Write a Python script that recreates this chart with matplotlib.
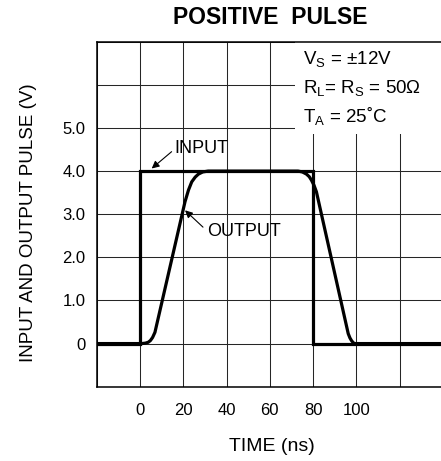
import matplotlib.pyplot as plt
from matplotlib.patches import Rectangle

plt.rcParams['font.family'] = ['Liberation Sans', 'DejaVu Sans']
plt.rcParams['mathtext.fontset'] = 'custom'
plt.rcParams['mathtext.rm'] = 'Liberation Sans'

# input pulse (time ns, volts)
input_t = [-20, 0, 0, 80, 80, 140]
input_v = [0, 0, 4, 4, 0, 0]

# output pulse
output_t = [-20, 0, 0.8, 2.5, 3.8, 4.8, 5.8, 6.9, 20.8, 22.4, 23.9, 25.5, 27, 29, 31.5,
            73, 75, 76.9, 78.2, 79.2, 80.4, 81.5, 96.2, 97, 97.7, 98.5, 99.2, 140]
output_v = [0, 0, 0, 0.01, 0.03, 0.07, 0.14, 0.26, 3.29, 3.56, 3.75, 3.86, 3.93, 3.98, 4.0,
            4.0, 3.98, 3.93, 3.87, 3.79, 3.67, 3.52, 0.23, 0.13, 0.07, 0.02, 0, 0]

xticks = [-20, 0, 20, 40, 60, 80, 100, 120, 140]
xlabels = ['', '0', '20', '40', '60', '80', '100', '', '']
yticks = [-1, 0, 1, 2, 3, 4, 5, 6, 7]
ylabels = ['', '0', '1.0', '2.0', '3.0', '4.0', '5.0', '', '']

fig = plt.figure(figsize=(4.41, 4.61), dpi=100)
ax = fig.add_axes([0.2193, 0.1612, 0.7853, 0.7483])

ax.set_xlim(-20, 140)
ax.set_ylim(-1, 7)
ax.set_xticks(xticks)
ax.set_xticklabels(xlabels, fontsize=12)
ax.set_yticks(yticks)
ax.set_yticklabels(ylabels, fontsize=12)
ax.tick_params(length=0)
ax.tick_params(axis='x', pad=12)
ax.tick_params(axis='y', pad=8)
ax.grid(True, color='0.15', lw=0.75)
ax.set_axisbelow(True)
for s in ax.spines.values():
    s.set_linewidth(1.1)

# blank area behind the conditions text
ax.add_patch(Rectangle((71.5, 4.86), 70, 2.2, facecolor='white', edgecolor='none', zorder=1))

ax.plot(input_t, input_v, color='black', lw=2.3, zorder=3, solid_joinstyle='miter')
ax.plot(output_t, output_v, color='black', lw=2.3, zorder=3, solid_joinstyle='round')

arrow = dict(arrowstyle='-|>', color='black', lw=0.8, mutation_scale=11, shrinkA=0, shrinkB=0)
ax.text(16, 4.53, 'INPUT', fontsize=13, va='center', ha='left', zorder=4)
ax.annotate('', xy=(5.4, 4.06), xytext=(14.6, 4.45), arrowprops=arrow)
ax.text(30.8, 2.59, 'OUTPUT', fontsize=13, va='center', ha='left', zorder=4)
ax.annotate('', xy=(20.8, 3.09), xytext=(29.1, 2.7), arrowprops=arrow)

ax.text(75.2, 6.6, r'$\mathregular{V_S}$ = ±12V', fontsize=13.5, va='center', zorder=4)
ax.text(75.2, 5.92, r'$\mathregular{R_L}$= $\mathregular{R_S}$ = 50Ω', fontsize=13.5, va='center', zorder=4)
ax.text(75.2, 5.28, r'$\mathregular{T_A}$ = 25˚C', fontsize=13.5, va='center', zorder=4)

fig.text(0.612, 0.963, 'POSITIVE  PULSE', fontsize=16.5, fontweight='bold', ha='center', va='center')
fig.text(0.0635, 0.518, 'INPUT AND OUTPUT PULSE (V)', fontsize=13.5, rotation=90, ha='center', va='center')
fig.text(0.616, 0.031, 'TIME (ns)', fontsize=14, ha='center', va='center')

fig.savefig('out.png', dpi=100)
